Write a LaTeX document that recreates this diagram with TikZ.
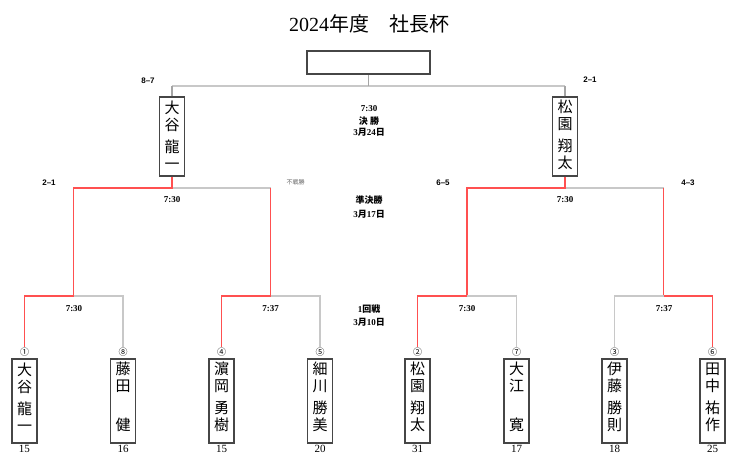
\documentclass[tikz,border=0pt]{standalone}
\usepackage{fontspec}
\setmainfont{Liberation Serif}
\newfontfamily\cjk{Noto Sans CJK JP}
\newfontfamily\lsans{Liberation Sans}
\newcommand\J[1]{{\cjk #1}}
\definecolor{redline}{RGB}{255,80,80}
\definecolor{grayline}{RGB}{200,200,200}
\definecolor{grayvert}{RGB}{165,165,165}
\definecolor{boxline}{RGB}{70,70,70}
\tikzset{
  gline/.style={draw=grayline, line width=1.2pt},
  gvline/.style={draw=grayvert, line width=1.2pt},
  rline/.style={draw=redline, line width=1.4pt},
  namebox/.style={draw=boxline, line width=1.3pt, minimum width=25pt, minimum height=84pt, inner sep=0pt},
  finbox/.style={namebox, minimum height=79pt},
  nametext/.style={inner sep=0pt, align=center, font=\cjk\fontsize{15}{17}\selectfont},
  circnum/.style={inner sep=0.5pt, font=\cjk\fontsize{9}{10}\selectfont},
  seed/.style={inner sep=0pt, font=\fontsize{11}{12}\selectfont},
  timelbl/.style={inner sep=0pt, font=\bfseries\fontsize{9}{10}\selectfont},
  scorelbl/.style={inner sep=0pt, font=\lsans\bfseries\fontsize{8}{9}\selectfont},
  midlbl/.style={inner sep=0pt, font=\bfseries\fontsize{9}{10}\selectfont},
}
\newcommand\pbox[5]{%
  \node[namebox] (#1) at (#2,401) {};
  \node[nametext] (#1t) at ([yshift=4pt]#1.center) {#5};
  \node[circnum] (#1c) at (#2,352) {#3};
  \node[seed] (#1n) at (#2,449) {#4};
}
\begin{document}
\begin{tikzpicture}[x=1pt,y=-1pt]
\useasboundingbox[fill=white] (0,0) rectangle (750,466);

% title
\node[inner sep=0pt, font=\fontsize{20}{22}\selectfont] (title) at (369,24) {2024\J{年度　社長杯}};
\node[draw=boxline, line width=1.3pt, minimum width=123pt, minimum height=23pt, inner sep=0pt] (champ) at (368.5,62.5) {};

% first-round players
\pbox{b1}{24.5}{①}{15}{大\\谷\\[5pt]龍\\一}
\pbox{b2}{123}{⑧}{16}{藤\\田\\[22pt]健}
\pbox{b3}{221.5}{④}{15}{濵\\岡\\[5pt]勇\\樹}
\pbox{b4}{320}{⑤}{20}{細\\川\\[5pt]勝\\美}
\pbox{b5}{417.5}{②}{31}{松\\園\\[5pt]翔\\太}
\pbox{b6}{516.5}{⑦}{17}{大\\江\\[22pt]寛}
\pbox{b7}{614.5}{③}{18}{伊\\藤\\[5pt]勝\\則}
\pbox{b8}{712.5}{⑥}{25}{田\\中\\[5pt]祐\\作}

% finalists
\node[finbox] (f1) at (172,136.5) {};
\node[nametext] (f1t) at ([yshift=1.5pt]f1.center) {大\\谷\\[5pt]龍\\一};
\node[finbox] (f2) at (565,136.5) {};
\node[nametext] (f2t) at ([yshift=1.5pt]f2.center) {松\\園\\[5pt]翔\\太};

% junctions
\coordinate (j1) at (73.75,296);
\coordinate (j2) at (270.75,296);
\coordinate (j3) at (467,296);
\coordinate (j4) at (663.5,296);
\coordinate (s1) at (172,188);
\coordinate (s2) at (565,188);
\coordinate (jf) at (368.5,86);

% final
\draw[gline] (f1.north |- jf) -- (f2.north |- jf);
\draw[gvline] (f1.north) -- (f1.north |- jf);
\draw[gvline] (f2.north) -- (f2.north |- jf);
\draw[gvline] (jf) -- (champ.south);

% semifinals
\draw[gline] (s1) -- (j2 |- s1);
\draw[rline] (f1.south) -- (s1) -- (j1 |- s1) -- (j1);
\draw[rline] (j2 |- s1) -- (j2);
\draw[gline] (s2) -- (j4 |- s2);
\draw[rline] (f2.south) -- (s2) -- (j3 |- s2) -- (j3);
\draw[rline] (j4 |- s2) -- (j4);

% first round
\draw[gline] (j1) -| (b2c.north);
\draw[rline] (j1) -| (b1c.north);
\draw[gline] (j2) -| (b4c.north);
\draw[rline] (j2) -| (b3c.north);
\draw[gline] (j3) -| (b6c.north);
\draw[rline] (j3) -| (b5c.north);
\draw[gline] (j4) -| (b7c.north);
\draw[rline] (j4) -| (b8c.north);

% times
\node[timelbl] (t1) at (74,309) {7:30};
\node[timelbl] (t2) at (270.5,309) {7:37};
\node[timelbl] (t3) at (467,309) {7:30};
\node[timelbl] (t4) at (664,309) {7:37};
\node[timelbl] (t5) at (172,200) {7:30};
\node[timelbl] (t6) at (565,200) {7:30};

% scores
\node[scorelbl] (sc1) at (148,81) {8–7};
\node[scorelbl] (sc2) at (590,80) {2–1};
\node[scorelbl] (sc3) at (49,183) {2–1};
\node[scorelbl] (sc4) at (443,183) {6–5};
\node[scorelbl] (sc5) at (688,183) {4–3};
\node[inner sep=0pt, text=black!60, font=\cjk\fontsize{6}{7}\selectfont] (fusen) at (295.5,182) {不戦勝};

% round labels
\node[midlbl] (m1) at (369,109) {7:30};
\node[midlbl] (m2) at (369,121) {\J{決 勝}};
\node[midlbl] (m3) at (369,132) {3\J{月}24\J{日}};
\node[midlbl] (m4) at (369,200) {\J{準決勝}};
\node[midlbl] (m5) at (369,214) {3\J{月}17\J{日}};
\node[midlbl] (m6) at (369,309) {1\J{回戦}};
\node[midlbl] (m7) at (369,322) {3\J{月}10\J{日}};
\end{tikzpicture}
\end{document}
